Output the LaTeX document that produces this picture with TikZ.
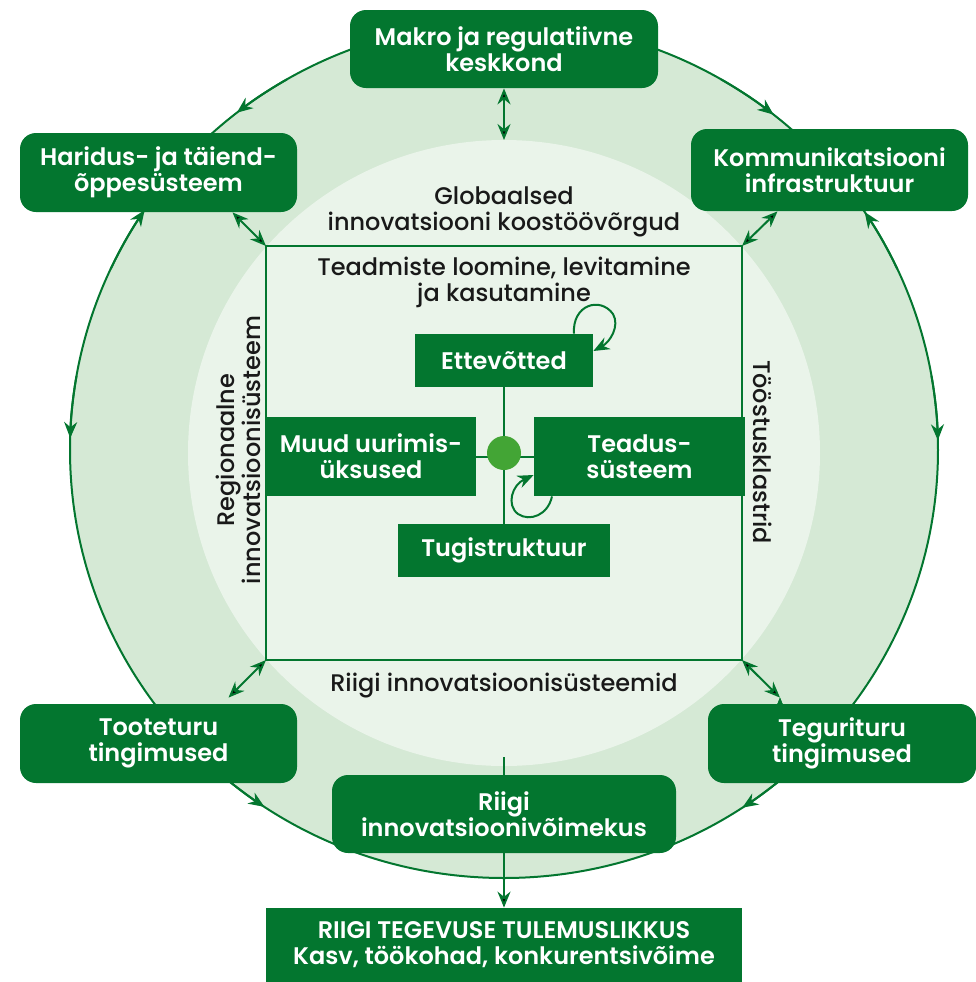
\documentclass[tikz,border=0pt]{standalone}
\usepackage{fontspec}
\setmainfont{Poppins}[UprightFont=* Medium, BoldFont=* SemiBold]
\usetikzlibrary{arrows.meta,positioning}
\definecolor{dgreen}{HTML}{03762F}
\definecolor{lgreen}{HTML}{D5E9D5}
\definecolor{llgreen}{HTML}{EAF4EA}
\definecolor{dotgreen}{HTML}{43A535}

\begin{document}
\begin{tikzpicture}[x=0.5pt,y=-0.5pt,
    >={Stealth[length=8pt,width=6.5pt]},
    every node/.style={font=\fontsize{12}{13}\selectfont,align=center,text=black!90},
    outer/.style={fill=dgreen,text=white,font=\bfseries\fontsize{12}{13}\selectfont,rounded corners=8pt,inner sep=0pt},
    inner/.style={fill=dgreen,text=white,font=\bfseries\fontsize{12}{13}\selectfont,inner sep=0pt},
    link/.style={draw=dgreen,line width=1pt}]
\useasboundingbox (0,0) rectangle (976,982);

% rings
\filldraw[fill=lgreen,draw=dgreen,line width=1pt] (504,450) ellipse [x radius=434, y radius=428];
\fill[llgreen] (504,453) ellipse [x radius=316, y radius=313];
\coordinate (tl) at (266,246);
\coordinate (br) at (742,660);
\coordinate (tr) at (742,246);
\coordinate (bl) at (266,660);
\coordinate (ctop) at (504,140);
\coordinate (cbot) at (504,757);
\draw[link] (tl) rectangle (br);

% arrow tips on the ring
\foreach \a/\b in {-120/-128, -60/-51.6, 190/181.6, -10/-1.3, 130/123.5, 50/56.7, -155/-145.9, -25/-33.8}
  \draw[link,->] (504,450) ++(\a:434 and 428) arc[start angle=\a, end angle=\b, x radius=434, y radius=428];

% labels
\node (glob) at (504,212) {Globaalsed\\innovatsiooni koostöövõrgud};
\node (teadm) at (504,282) {Teadmiste loomine, levitamine\\ja kasutamine};
\node (riigis) at (504,686) {Riigi innovatsioonisüsteemid};
\node[rotate=90] (regio) at (238,450) {Regionaalne\\innovatsioonisüsteem};
\node[rotate=-90] (klast) at (763,452) {Tööstusklastrid};

% outer boxes
\node[outer,minimum width=154pt,minimum height=39pt] (makro) at (504,49) {Makro ja regulatiivne\\keskkond};
\node[outer,minimum width=138.5pt,minimum height=39.5pt] (haridus) at (158.5,172.5) {Haridus- ja täiend-\\õppesüsteem};
\node[outer,minimum width=138.5pt,minimum height=41pt] (komm) at (829.5,170) {Kommunikatsiooni\\infrastruktuur};
\node[outer,minimum width=138.5pt,minimum height=39.5pt] (toote) at (158.5,743.5) {Tooteturu\\tingimused};
\node[outer,minimum width=134pt,minimum height=39.5pt] (tegur) at (842,743.5) {Tegurituru\\tingimused};
\node[outer,minimum width=172pt,minimum height=39pt] (voime) at (504,814) {Riigi\\innovatsioonivõimekus};
\node[inner,minimum width=238pt,minimum height=37pt] (tulem) at (504,945) {RIIGI TEGEVUSE TULEMUSLIKKUS\\Kasv, töökohad, konkurentsivõime};

% inner boxes
\node[inner,minimum width=89pt,minimum height=26.5pt] (ettev) at (504,360.5) {Ettevõtted};
\node[inner,minimum width=105pt,minimum height=39.5pt] (muud) at (371,456.5) {Muud uurimis-\\üksused};
\node[inner,minimum width=105.5pt,minimum height=39.5pt] (teadus) at (639.5,456.5) {Teadus-\\süsteem};
\node[inner,minimum width=106pt,minimum height=26.5pt] (tugi) at (504,550.5) {Tugistruktuur};

% links
\path[link]
  (ettev) edge (tugi)
  (muud) edge (teadus)
  (cbot) edge (voime);
\fill[dotgreen] (504,453) circle [radius=17];
\node[circle,minimum size=17pt,inner sep=0pt] (dot) at (504,453) {};
\path[link,<->]
  (makro) edge (ctop)
  ([xshift=37pt]haridus.south) edge (tl)
  ([xshift=-26pt]komm.south) edge (tr)
  ([xshift=35pt,yshift=3pt]toote.north) edge (bl)
  ([xshift=-31pt,yshift=3pt]tegur.north) edge (br);
\path[link,->] (voime) edge (tulem);
\draw[link,->] ([xshift=35pt]ettev.north) .. controls (572,305) and (600,296) .. (613,314)
  .. controls (620,326) and (610,342) .. ([yshift=4.75pt]ettev.east);
\draw[link,->] ([xshift=-43.75pt]teadus.south) .. controls (548,515) and (530,522) .. (518,514)
  .. controls (506,505) and (512,485) .. ([yshift=-9.25pt]teadus.west);
\end{tikzpicture}
\end{document}
